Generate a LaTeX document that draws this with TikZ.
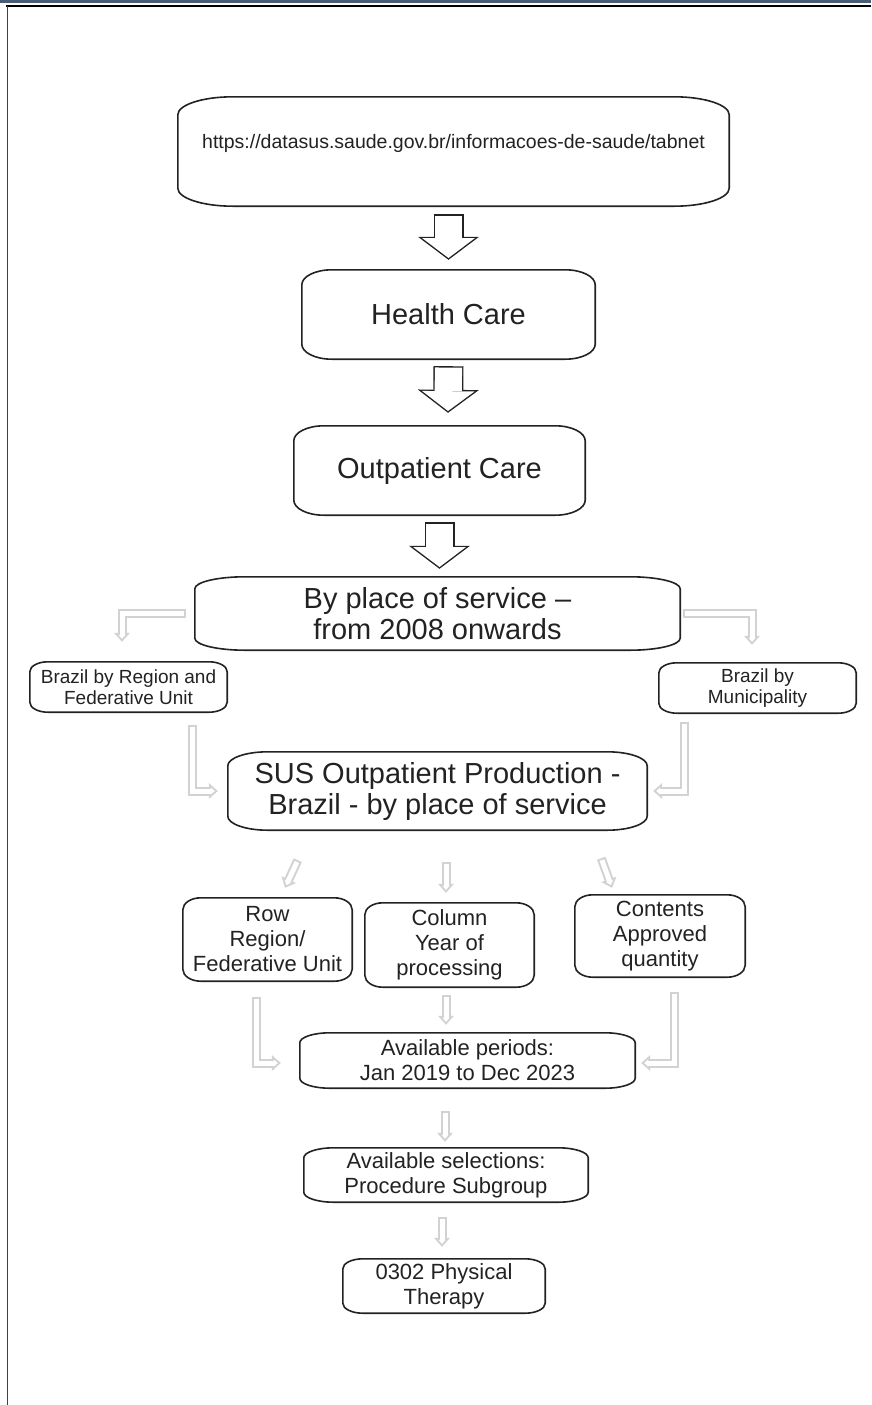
\documentclass[tikz,border=0pt]{standalone}
\usepackage{fontspec}
\setmainfont{Liberation Sans}
\usepackage{tikz}
\usetikzlibrary{arrows.meta}

\definecolor{barblue}{HTML}{4B5D75}
\definecolor{ink}{HTML}{222222}
\definecolor{lite}{HTML}{D2D2D2}

\begin{document}
\begin{tikzpicture}[x=1pt, y=1pt,
        box/.style={text=ink, align=center, inner sep=0pt},
        bigbox/.style={box, font=\fontsize{29}{31}\selectfont},
        midbox/.style={box, font=\fontsize{22}{25}\selectfont},
        smallbox/.style={box, font=\fontsize{19}{21}\selectfont},
        outline/.style={draw=ink, line width=1.6pt},
        fatarrow/.style={draw=ink, line width=30pt,
            -{Triangle[length=23pt, width=61pt, line width=0pt]},
            postaction={draw=white, line width=27.2pt, shorten <=1.4pt, shorten >=1.8pt,
                -{Triangle[length=19.8pt, width=52.5pt, line width=0pt]}}},
        litearrow/.style={draw=lite, line width=9pt,
            -{Triangle[length=9pt, width=16pt, line width=0pt]},
            postaction={draw=white, line width=5pt, shorten <=2pt, shorten >=3pt,
                -{Triangle[length=4pt, width=7.1pt, line width=0pt]}}}
    ]
        \useasboundingbox (0,0) rectangle (871,-1405);

        % page frame
        \fill[barblue] (0,0) rectangle (871,-3.5);
        \draw[black, line width=2pt] (6,-6) -- (871,-6);
        \draw[black!75, line width=1pt] (7,-6) -- (7,-1405);

        % main column
        \node[box, font=\fontsize{19.5}{22}\selectfont, minimum width=551pt, minimum height=109pt,
            text height=14pt, text depth=21pt] (url) at (453.5,-151.5)
            {https://datasus.saude.gov.br/informacoes-de-saude/tabnet};
        \node[bigbox, minimum width=293pt, minimum height=89pt] (health) at (448.5,-314.5) {Health Care};
        \node[bigbox, minimum width=291pt, minimum height=89pt] (outp) at (439.5,-470.5) {Outpatient Care};
        \node[bigbox, minimum width=485pt, minimum height=73pt] (byplace) at (437.5,-613.5)
            {By place of service –\\from 2008 onwards};

        % the two branches
        \node[smallbox, minimum width=197pt, minimum height=50pt] (region) at (128.5,-687)
            {Brazil by Region and\\Federative Unit};
        \node[smallbox, minimum width=197pt, minimum height=50pt] (muni) at (757.5,-688)
            {Brazil by\\Municipality};
        \node[bigbox, minimum width=419pt, minimum height=78pt] (sus) at (437.5,-791)
            {SUS Outpatient Production -\\Brazil - by place of service};

        % table options
        \node[midbox, minimum width=169pt, minimum height=83pt] (row) at (267.5,-939.5)
            {Row\\Region/\\Federative Unit};
        \node[midbox, minimum width=169pt, minimum height=84pt] (col) at (449.5,-945)
            {Column\\Year of\\processing};
        \node[midbox, minimum width=170pt, minimum height=82pt] (contents) at (660,-936)
            {Contents\\Approved\\quantity};
        \node[midbox, minimum width=335pt, minimum height=55pt] (periods) at (467.5,-1060.5)
            {Available periods:\\Jan 2019 to Dec 2023};
        \node[midbox, minimum width=284pt, minimum height=54pt] (select) at (446,-1175)
            {Available selections:\\Procedure Subgroup};
        \node[midbox, minimum width=202pt, minimum height=54pt] (therapy) at (444,-1286)
            {0302 Physical\\Therapy};

        % box outlines with flat elliptic corners
        \foreach \n/\rx/\ry in {url/55/18, health/30/15, outp/30/15, byplace/50/12,
                region/18/10, muni/18/10, sus/40/14, row/18/12, col/18/12, contents/18/12,
                periods/30/10, select/30/10, therapy/20/10} {
            \draw[outline] ([xshift=\rx]\n.north west) -- ([xshift=-\rx]\n.north east)
                arc[start angle=90, end angle=0, x radius=\rx, y radius=\ry]
                -- ([yshift=\ry]\n.south east)
                arc[start angle=0, end angle=-90, x radius=\rx, y radius=\ry]
                -- ([xshift=\rx]\n.south west)
                arc[start angle=270, end angle=180, x radius=\rx, y radius=\ry]
                -- ([yshift=-\ry]\n.north west)
                arc[start angle=180, end angle=90, x radius=\rx, y radius=\ry] -- cycle;
        }

        % block arrows
        \draw[fatarrow] ([shift={(-5,-8)}]url.south) -- ([yshift=10]health.north);
        \draw[fatarrow] ([yshift=-7]health.south) -- ([shift={(8.5,13)}]outp.north);
        \draw[fatarrow] ([yshift=-7]outp.south) -- ([shift={(2,8)}]byplace.north);

        % light arrows
        \draw[litearrow] ([xshift=-9]byplace.west) -| ([shift={(-6.5,20)}]region.north);
        \draw[litearrow] ([xshift=3]byplace.east) -| ([shift={(-5.5,18)}]muni.north);
        \draw[litearrow] ([shift={(-35,-13)}]region.south east) |- ([xshift=-10]sus.west);
        \draw[litearrow] ([shift={(26,-9)}]muni.south west) |- ([xshift=6]sus.east);
        \draw[litearrow] ([shift={(70,-30)}]sus.south west) -- ([shift={(17.5,10)}]row.north);
        \draw[litearrow] ([shift={(8.5,-32)}]sus.south) -- ([shift={(-3.5,10)}]col.north);
        \draw[litearrow] ([shift={(-46,-28)}]sus.south east) -- ([shift={(-48,7)}]contents.north);
        \draw[litearrow] ([shift={(-11.5,-16)}]row.south) |- ([shift={(-19,-2.5)}]periods.west);
        \draw[litearrow] ([shift={(-3.5,-8)}]col.south) -- ([shift={(-21.5,8)}]periods.north);
        \draw[litearrow] ([shift={(14,-15)}]contents.south) |- ([shift={(6,-2.5)}]periods.east);
        \draw[litearrow] ([shift={(-22.5,-23)}]periods.south) -- ([shift={(-1,6)}]select.north);
        \draw[litearrow] ([shift={(-4,-15)}]select.south) -- ([shift={(-2,12)}]therapy.north);
    \end{tikzpicture}
\end{document}
